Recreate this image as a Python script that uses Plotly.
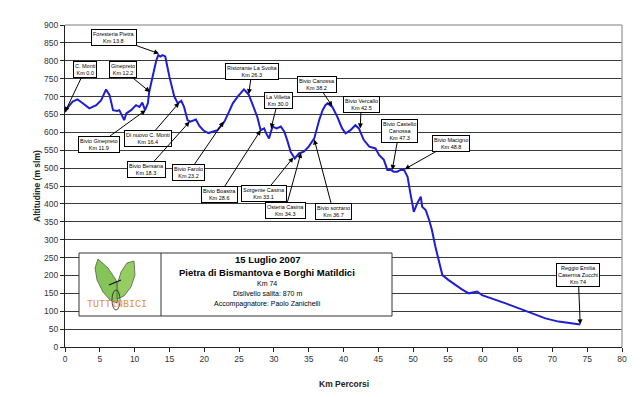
import plotly.graph_objects as go

# ---- profile data (km, altitude m) ----
km = [0.0, 0.5, 1.1, 1.8, 2.5, 3.5, 4.5, 5.2, 5.9, 6.4, 6.9, 7.5, 7.8, 8.1, 8.5, 8.8, 9.5, 10.2, 10.7,
      11.1, 11.5, 11.9, 12.1, 12.4, 12.8, 13.1, 13.4, 13.7, 14.0, 14.4, 15.0, 15.7, 16.2, 16.7, 17.1,
      17.6, 18.0, 18.3, 18.8, 19.3, 19.9, 20.6, 21.2, 21.9, 22.5, 22.9, 23.5, 24.1, 24.8, 25.3, 25.7,
      26.0, 26.4, 26.7, 27.2, 27.6, 28.1, 28.6, 28.9, 29.3, 29.8, 30.4, 31.0, 31.5, 31.9, 32.4, 33.0,
      33.6, 34.3, 35.0, 35.8, 36.5, 37.0, 37.4, 37.7, 38.4, 39.1, 39.8, 40.3, 41.0, 41.7, 42.2, 42.9,
      43.7, 44.6, 45.1, 45.8, 46.3, 46.8, 47.2, 47.7, 48.2, 48.7, 49.2, 49.6, 50.1, 50.6, 51.1, 51.3,
      51.8, 52.3, 52.7, 53.2, 53.7, 54.2, 55.1, 56.1, 57.0, 58.0, 59.2, 59.9, 61.3, 63.3, 65.2, 67.1,
      69.0, 70.9, 72.8, 74.0]
alt = [657, 672, 686, 692, 682, 667, 676, 690, 720, 704, 662, 660, 662, 648, 634, 653, 662, 676, 671,
       683, 662, 681, 713, 740, 774, 800, 816, 812, 816, 812, 755, 700, 681, 688, 671,
       634, 630, 633, 636, 618, 605, 598, 602, 606, 620, 630, 655, 681, 700, 713, 720,
       714, 705, 690, 667, 644, 606, 611, 597, 583, 616, 611, 616, 602, 579, 546, 527,
       541, 546, 560, 583, 634, 662, 676, 681, 671, 644, 611, 597, 606, 620, 611, 579,
       560, 555, 537, 523, 495, 495, 490, 490, 495, 495, 476, 430, 378, 402, 420, 392,
       383, 355, 327, 280, 243, 201, 187, 173, 161, 150, 155, 145, 136, 122, 108, 94,
       80, 71, 66, 63]

# ---- waypoint labels ----
labels = ["C. Monti<br>Km 0.0", "Ginepreto<br>Km 12.2", "Foresteria Pietra<br>Km 13.8",
          "Bivio Ginepreto<br>Km 11.9", "Di nuovo C. Monti<br>Km 16.4", "Bivio Bersana<br>Km 18.3",
          "Bivio Farolo<br>Km 23.2", "Ristorante La Svolta<br>Km 26.3", "La Villetta<br>Km 30.0",
          "Bivio Boastra<br>Km 28.6", "Sorgente Casina<br>Km 33.1", "Osteria Casina<br>Km 34.3",
          "Bivio sorzano<br>Km 36.7", "Bivio Canossa<br>Km 38.2", "Bivio Vercallo<br>Km 42.5",
          "Bivio Castello<br>Canossa<br>Km 47.3", "Bivio Macigno<br>Km 48.8",
          "Reggio Emilia<br>Caserma Zucchi<br>Km 74"]
label_km = [0.0, 12.2, 13.5, 11.6, 16.4, 17.9, 22.8, 26.4, 29.6, 28.1, 32.8, 33.9, 35.8, 38.4, 42.4,
            47.0, 48.8, 74.0]
label_alt = [657, 713, 820, 662, 683, 630, 630, 707, 611, 606, 530, 543, 580, 673, 611, 495, 497, 63]
# text-box offsets from arrow tip (pixels)
label_dx = [20, -27, -45, -47, -31, -43, -35, 3, 7, -41, -29, -16, 19, -15, 1, 7, 46, -2]
label_dy = [-42, -22, -16, 34, 36, 48, 51, -23, -28, 64, 36, 58, 72, -22, -24, -39, -26, -49]

x_ticks = list(range(0, 81, 5))
y_ticks = list(range(0, 901, 50))

FONT = "Liberation Sans, Arial, sans-serif"
# page body has an 8px margin; work in window pixel coords
OFF = 8
WIN_L, WIN_R, WIN_T, WIN_B = 65, 622, 25, 347
W, H = 640 - OFF, 397 - OFF
ML, MT = WIN_L - OFF, WIN_T - OFF
MR = W - (WIN_R - OFF)
MB = H - (WIN_B - OFF)
PW, PH = WIN_R - WIN_L, WIN_B - WIN_T


def px(x):
    return (x - WIN_L) / PW


def py(y):
    return (WIN_B - y) / PH


fig = go.Figure()
fig.add_trace(go.Scatter(x=km, y=alt, mode="lines",
                         line=dict(color="#1e1ed2", width=2), hoverinfo="skip"))

annotations = []
for t, x, y, dx, dy in zip(labels, label_km, label_alt, label_dx, label_dy):
    annotations.append(dict(x=x, y=y, xref="x", yref="y", text=t, showarrow=True,
                            ax=dx, ay=dy, arrowhead=2, arrowsize=1, arrowwidth=1,
                            arrowcolor="black", bgcolor="white", bordercolor="black",
                            borderwidth=1, borderpad=1,
                            font=dict(family=FONT, size=5.5, color="black")))


def txt(x, y, text, size, color="black", family=FONT, angle=0):
    return dict(x=px(x), y=py(y), xref="paper", yref="paper", text=text, showarrow=False,
                xanchor="center", yanchor="middle", textangle=angle,
                font=dict(family=family, size=size, color=color))


annotations += [
    txt(267, 259.5, "<b>15 Luglio 2007</b>", 9.5),
    txt(267, 272.5, "<b>Pietra di Bismantova e Borghi Matildici</b>", 9.5),
    txt(267, 283, "Km 74", 7),
    txt(267, 293.5, "Dislivello salita: 870 m", 7),
    txt(267, 304, "Accompagnatore: Paolo Zanichelli", 7),
    txt(117, 304, "TUTTINBICI", 10, "#e0952e", "Liberation Mono, Courier New, monospace"),
    txt(37, 186, "<b>Altitudine (m slm)</b>", 8.5, "#222", angle=-90),
    txt(344, 384, "<b>Km Percorsi</b>", 8.5, "#222"),
]


def path(points):
    return "M " + " L ".join(f"{px(a):.4f},{py(b):.4f}" for a, b in points) + " Z"


shapes = [
    dict(type="line", xref="paper", yref="paper", x0=0, x1=1, y0=1, y1=1,
         line=dict(color="#a8a8a8", width=1.5)),
    dict(type="line", xref="paper", yref="paper", x0=1, x1=1, y0=0, y1=1,
         line=dict(color="#a8a8a8", width=1.5)),
    dict(type="rect", xref="paper", yref="paper", x0=px(79), x1=px(392), y0=py(316), y1=py(253),
         fillcolor="white", line=dict(color="#333", width=1)),
    dict(type="line", xref="paper", yref="paper", x0=px(161), x1=px(161), y0=py(316), y1=py(253),
         line=dict(color="#333", width=1)),
    dict(type="path", xref="paper", yref="paper",
         path=path([(98, 259), (95, 268), (97, 280), (103, 292), (110, 300), (117, 303),
                    (119, 293), (116, 280), (108, 268)]),
         fillcolor="rgba(112,186,58,0.85)", line=dict(color="#333", width=0.6)),
    dict(type="path", xref="paper", yref="paper",
         path=path([(134, 261), (127, 263), (121, 272), (117, 285), (117, 299),
                    (124, 296), (131, 287), (135, 275)]),
         fillcolor="rgba(130,196,72,0.85)", line=dict(color="#333", width=0.6)),
    dict(type="circle", xref="paper", yref="paper", x0=px(112), x1=px(120), y0=py(310), y1=py(290),
         line=dict(color="#222", width=0.8)),
    dict(type="line", xref="paper", yref="paper", x0=px(109), x1=px(121), y0=py(285), y1=py(280),
         line=dict(color="#111", width=1.2)),
]

fig.update_layout(
    width=W, height=H,
    margin=dict(l=ML, r=MR, t=MT, b=MB, autoexpand=False),
    plot_bgcolor="white", paper_bgcolor="white",
    showlegend=False,
    font=dict(family=FONT, size=8.5, color="#333"),
    xaxis=dict(range=[0, 80], tickvals=x_ticks, ticktext=[str(v) for v in x_ticks],
               showgrid=False, zeroline=False, showline=True, linecolor="#222", linewidth=1,
               ticks="outside", ticklen=4, tickcolor="#222", tickfont=dict(size=8.5, color="#333")),
    yaxis=dict(range=[0, 900], tickvals=y_ticks, ticktext=[str(v) for v in y_ticks],
               showgrid=True, gridcolor="#3a3a3a", gridwidth=1, zeroline=False,
               showline=True, linecolor="#222", linewidth=1,
               ticks="outside", ticklen=4, tickcolor="#222", tickfont=dict(size=8.5, color="#333")),
    annotations=annotations,
    shapes=shapes,
)

fig.write_html("out.html")
